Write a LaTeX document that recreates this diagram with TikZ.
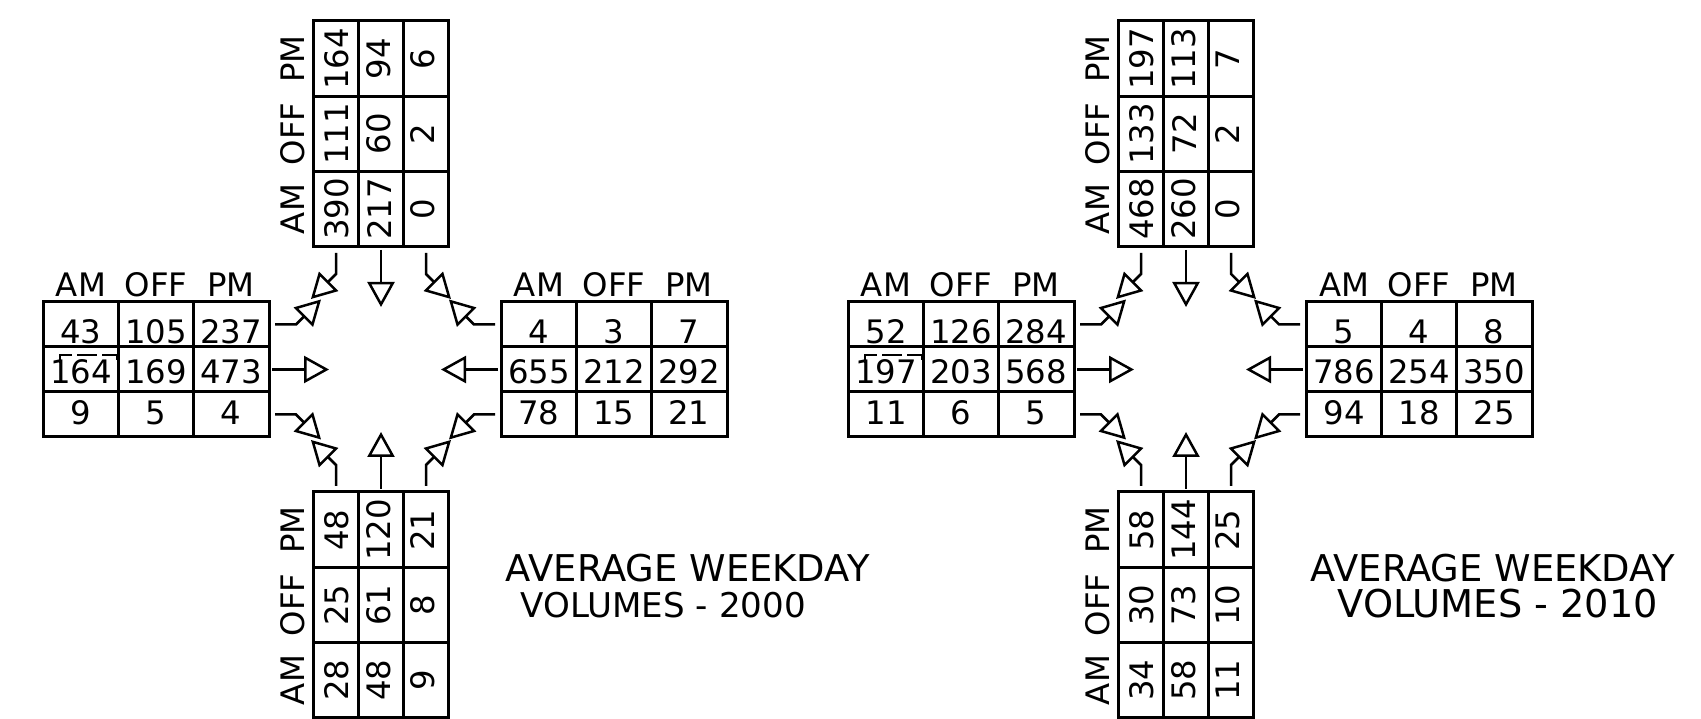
\documentclass[tikz,border=0pt]{standalone}
\usepackage{fontspec}
\newfontfamily\cadfont{DejaVu Sans}
\usetikzlibrary{arrows.meta}

\newcommand{\numfont}{\cadfont\fontsize{9.2pt}{11pt}\selectfont}
\newcommand{\ttlfont}{\cadfont\fontsize{10.5pt}{13pt}\selectfont}
\newcommand{\ttlfontsm}{\cadfont\fontsize{9.7pt}{12pt}\selectfont}
\newcommand{\ttlfontlg}{\cadfont\fontsize{10.9pt}{13pt}\selectfont}

\tikzset{
  volbox/.style={draw, line width=0.3mm, minimum width=22.6mm,
                 minimum height=13.5mm, inner sep=0pt, transform shape},
  grid/.style={line width=0.3mm},
  num/.style={font=\numfont, inner sep=0pt, transform shape},
  hdr/.style={num, hoff},
  hoff/.style={},
  r1/.style={shift={(0,7)}},
  r2/.style={shift={(0,2)}},
  r3/.style={shift={(0,-1.5)}},
  vtab/.style={rotate=90, hoff/.style={shift={(0,-4)}},
               r1/.style={shift={(0,1)}}, r2/.style={shift={(0,-2)}},
               r3/.style={shift={(0,-3.5)}}},
  lane/.style={line width=0.25mm, -{Triangle[open, length=2.5mm, width=2.7mm]}},
  ttl/.style={font=\ttlfont, inner sep=0pt, anchor=west},
  ghost/.style={line width=0.18mm, dash pattern=on 2mm off 0.5mm},
}

% one count table: AM/OFF/PM header, three rows a/b/c
\newcommand{\voltab}[3][]{%
  \begin{scope}[#1]
    \node[volbox] (#2) at (0,0) {};
    \draw[grid] (-37.5,-67.5) -- (-37.5,67.5) (37.5,-67.5) -- (37.5,67.5)
      (-113,-22.5) -- (113,-22.5) (-113,22.5) -- (113,22.5);
    \node[hdr] (#2-am) at (-75,-84.5) {AM};
    \node[hdr] (#2-off) at (0,-84.5) {OFF};
    \node[hdr] (#2-pm) at (75,-84.5) {PM};
    \foreach \ra/\rb/\rc [count=\r] in {#3} {
      \coordinate (#2-l\r) at (-113,{45*(\r-2)});
      \coordinate (#2-r\r) at (113,{45*(\r-2)});
      \node[num, r\r] (#2-\r-1) at (-75,{45*(\r-2)}) {\ra};
      \node[num, r\r] (#2-\r-2) at (0,{45*(\r-2)}) {\rb};
      \node[num, r\r] (#2-\r-3) at (75,{45*(\r-2)}) {\rc};
    }
  \end{scope}}

% one intersection: shift, N, W, E, S tables, year, options of 2nd title line
\newcommand{\volmap}[7]{%
  \begin{scope}[shift={#1}]
    \voltab[shift={(381,134)}, vtab]{N#6}{#2}
    \voltab[shift={(156,369.5)}]{W#6}{#3}
    \voltab[shift={(614,369.5)}]{E#6}{#4}
    \voltab[shift={(381,605)}, vtab]{S#6}{#5}
    % southbound
    \draw[lane] ([shift={(0,6)}]N#6-l1) -- ++(0,21) -- ++(-25,25);
    \draw[lane] ([shift={(0,3)}]N#6-l2) -- ++(0,57);
    \draw[lane] ([shift={(0,6)}]N#6-l3) -- ++(0,21) -- ++(25,25);
    % eastbound
    \draw[lane] ([shift={(6,0)}]W#6-r1) -- ++(21,0) -- ++(25,-25);
    \draw[lane] ([shift={(3,0)}]W#6-r2) -- ++(57,0);
    \draw[lane] ([shift={(6,0)}]W#6-r3) -- ++(21,0) -- ++(25,25);
    % westbound
    \draw[lane] ([shift={(-6,0)}]E#6-l1) -- ++(-21,0) -- ++(-25,-25);
    \draw[lane] ([shift={(-3,0)}]E#6-l2) -- ++(-57,0);
    \draw[lane] ([shift={(-6,0)}]E#6-l3) -- ++(-21,0) -- ++(-25,25);
    % northbound
    \draw[lane] ([shift={(0,-6)}]S#6-r1) -- ++(0,-21) -- ++(-25,-25);
    \draw[lane] ([shift={(0,-3)}]S#6-r2) -- ++(0,-57);
    \draw[lane] ([shift={(0,-6)}]S#6-r3) -- ++(0,-21) -- ++(25,-25);
    % stray dashed mark over the first cell
    \draw[ghost] ([shift={(17,-6.5)}]W#6-l2) |- ([shift={(74,-14.5)}]W#6-l2) -- ++(0,6);
    \node[ttl] (T#6a) at (505,568.5) {AVERAGE WEEKDAY};
    \node[ttl, #7] (T#6b) {VOLUMES - #6};
  \end{scope}}

\begin{document}
\begin{tikzpicture}[x=0.1mm, y=-0.1mm]
  \useasboundingbox (0,0) rectangle (1701,719);
  \volmap{(0,0)}{390/111/164, 217/60/94, 0/2/6}{43/105/237, 164/169/473, 9/5/4}
    {4/3/7, 655/212/292, 78/15/21}{28/25/48, 48/61/120, 9/8/21}
    {2000}{at={(520,605)}, font=\ttlfontsm}
  \volmap{(805,0)}{468/133/197, 260/72/113, 0/2/7}{52/126/284, 197/203/568, 11/6/5}
    {5/4/8, 786/254/350, 94/18/25}{34/30/58, 58/73/144, 11/10/25}
    {2010}{at={(532,603.5)}, font=\ttlfontlg}
\end{tikzpicture}
\end{document}
